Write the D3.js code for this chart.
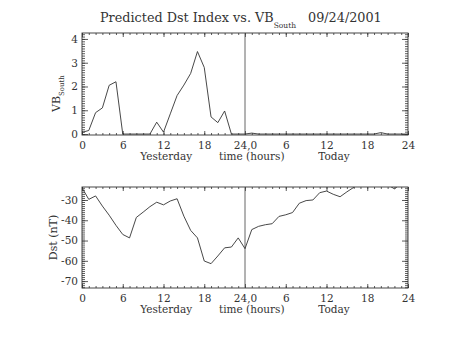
<!DOCTYPE html>
<html><head><meta charset="utf-8">
<script src="https://cdn.jsdelivr.net/npm/d3@7"></script>
<style>
body{margin:0;background:#fff}
text{font-family:"DejaVu Serif",serif;fill:#333}
</style>
</head><body><svg id="c" width="454" height="341"></svg>
<script>
// ---- data ----
const hours = [0,1,2,3,4,5,6,7,8,9,10,11,12,13,14,15,16,17,18,19,20,21,22,23,24,
  25,26,27,28,29,30,31,32,33,34,35,36,37,38,39,40,41,42,43,44,45,46,47,48];
const vbSouth = [0.07,0.15,0.9,1.1,2.05,2.2,0,0,0,0,0,0.5,0.08,0.85,1.62,2.06,2.55,3.47,2.8,0.72,0.48,0.97,0,0,0,
  0.04,0,0,0,0,0,0,0,0,0,0,0,0,0,0,0,0,0,0,0.06,0,0,0,0];
const dst = [-24,-29.7,-28,-33,-37.5,-42.5,-47,-48.7,-38.6,-36,-33.3,-31.1,-32.4,-30.5,-29.4,-38,-45,-48.7,-60.1,-61.4,-57.6,-53.6,-53.2,-48.7,-54,
  -44.6,-43,-42.2,-41.7,-38.1,-37.3,-36.2,-31.6,-30.3,-30,-26.4,-25.6,-27.2,-28.4,-26,-23.8,-22,-21,-20.5,-21,-22.5,-24.5,-22,-21];
const xTickValues = [0,6,12,18,24,30,36,42,48];
const xTickLabels = ["0","6","12","18","24,0","6","12","18","24"];
const vbTicks = [0,1,2,3,4];
const vbTickLabels = ["0","1","2","3","4"];
const dstTicks = [-70,-60,-50,-40,-30];
const dstTickLabels = ["-70","-60","-50","-40","-30"];
const dayLabels = ["Yesterday","time (hours)","Today"];
const dayLabelHours = [12.4,25.0,37.1];

// ---- layout ----
const svg = d3.select("#c");
const L = 82, R = 408;
const x = d3.scaleLinear().domain([0,48]).range([L,R]);
const ink = "#333";

function panel(id, top, bottom, yDomain, ticks, tickLabels, minorStep, values, yLabelFn){
  const y = d3.scaleLinear().domain(yDomain).range([bottom, top]);
  const g = svg.append("g");
  g.append("clipPath").attr("id", id).append("rect")
    .attr("x", L).attr("y", top).attr("width", R-L).attr("height", bottom-top);
  const mk = (axis, size, vals, tr) => {
    const a = g.append("g").attr("transform", tr).call(axis.tickValues(vals).tickSize(size).tickFormat(""));
    a.select(".domain").remove();
    a.selectAll("line").attr("stroke", ink).attr("stroke-width",0.8);
    return a;
  };
  mk(d3.axisBottom(x), -2, hours, `translate(0,${bottom})`);
  mk(d3.axisTop(x), -2, hours, `translate(0,${top})`);
  mk(d3.axisBottom(x), -4, xTickValues, `translate(0,${bottom})`);
  mk(d3.axisTop(x), -4, xTickValues, `translate(0,${top})`);
  const minorY = d3.range(Math.ceil(yDomain[0]/minorStep)*minorStep, yDomain[1], minorStep);
  mk(d3.axisLeft(y), -3, minorY, `translate(${L},0)`);
  mk(d3.axisRight(y), -3, minorY, `translate(${R},0)`);
  mk(d3.axisLeft(y), -6, ticks, `translate(${L},0)`);
  mk(d3.axisRight(y), -6, ticks, `translate(${R},0)`);
  const xa = g.append("g").attr("transform", `translate(0,${bottom})`)
    .call(d3.axisBottom(x).tickValues(xTickValues).tickSize(0).tickPadding(7)
      .tickFormat((d,i)=>xTickLabels[i]));
  xa.select(".domain").remove();
  xa.selectAll("text").attr("font-size", 10.5).attr("font-family", '"DejaVu Serif",serif').attr("fill","#333");
  const ya = g.append("g").attr("transform", `translate(${L},0)`)
    .call(d3.axisLeft(y).tickValues(ticks).tickSize(0).tickPadding(4)
      .tickFormat((d,i)=>tickLabels[i]));
  ya.select(".domain").remove();
  ya.selectAll("text").attr("font-size", 10.5).attr("font-family", '"DejaVu Serif",serif').attr("fill","#333");
  g.selectAll(".day").data(dayLabels).join("text")
    .attr("x", (d,i)=>x(dayLabelHours[i])).attr("y", bottom+25)
    .attr("text-anchor","middle").attr("font-size",10.5).text(d=>d);
  g.append("rect").attr("x",L).attr("y",top).attr("width",R-L).attr("height",bottom-top)
    .attr("fill","none").attr("stroke",ink).attr("stroke-width",0.9);
  g.append("line").attr("x1",x(24)).attr("x2",x(24)).attr("y1",top).attr("y2",bottom)
    .attr("stroke","#555").attr("stroke-width",0.9);
  g.append("path").datum(values.map((v,i)=>[hours[i],v]))
    .attr("clip-path",`url(#${id})`)
    .attr("fill","none").attr("stroke",ink).attr("stroke-width",0.9)
    .attr("d", d3.line().x(d=>x(d[0])).y(d=>y(d[1])));
  yLabelFn(g, (top+bottom)/2);
}

panel("clipTop", 33, 135, [-0.04, 4.25], vbTicks, vbTickLabels, 0.1, vbSouth, (g, cy)=>{
  const t = g.append("text").attr("transform", `translate(60,${cy+28}) rotate(-90)`)
    .attr("font-size", 11);
  t.append("tspan").text("VB");
  t.append("tspan").attr("dy", 4).attr("font-size", 7).text("South");
});
panel("clipBot", 187, 288, [-73.4, -23.6], dstTicks, dstTickLabels, 1, dst, (g, cy)=>{
  g.append("text").attr("transform", `translate(57,${cy}) rotate(-90)`)
    .attr("text-anchor","middle").attr("font-size", 11).text("Dst (nT)");
});

// title
const title = svg.append("text").attr("x", 100).attr("y", 22).attr("font-size", 12.8);
title.append("tspan").text("Predicted Dst Index vs. VB");
title.append("tspan").attr("dy", 6).attr("font-size", 7.5).text("South");
svg.append("text").attr("x", 308).attr("y", 22).attr("font-size", 12.8).text("09/24/2001");
</script>
</body></html>
